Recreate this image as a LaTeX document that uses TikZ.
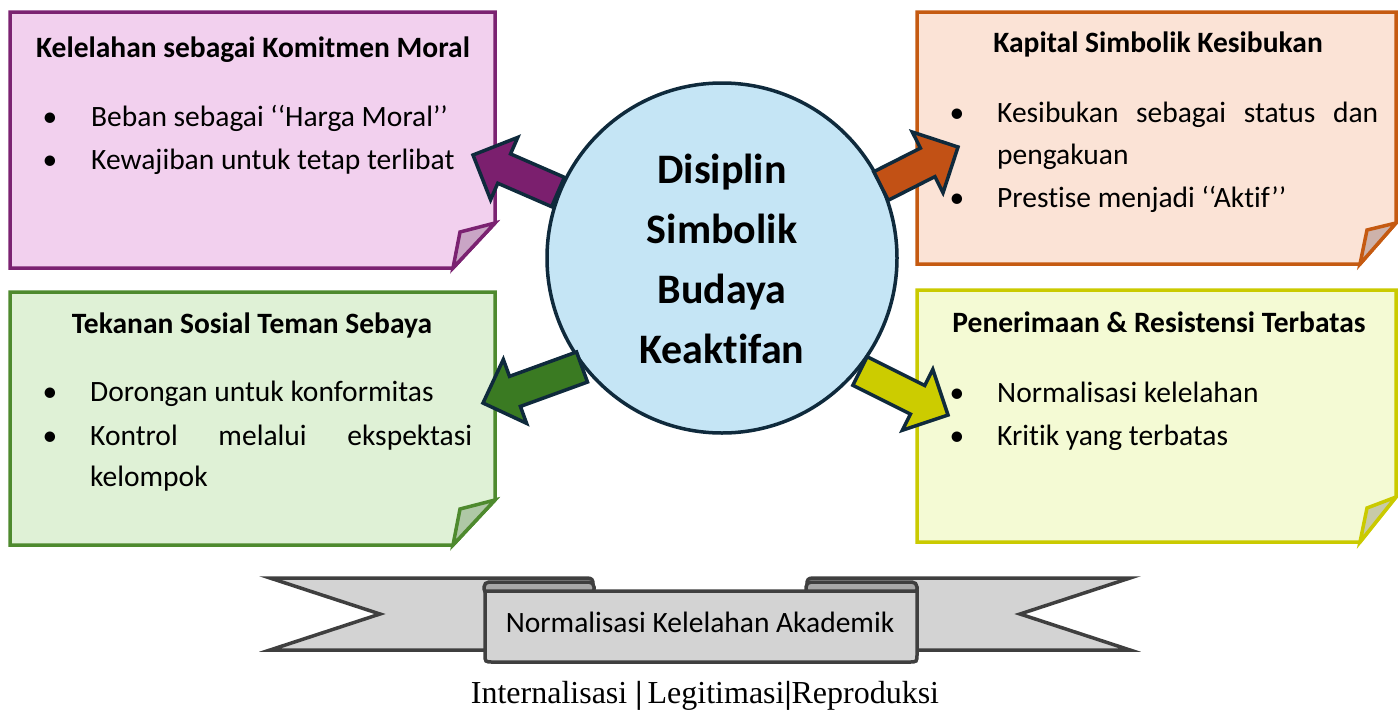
\documentclass[tikz,border=0pt]{standalone}
\usepackage{fontspec}
\setmainfont{Carlito}[Ligatures={TeX,NoCommon}]
\newfontfamily\capfont{Liberation Serif}
\usetikzlibrary{calc}
\definecolor{pinkF}{HTML}{F2D0EE}
\definecolor{pinkB}{HTML}{7B2271}
\definecolor{pinkD}{HTML}{C9A5C5}
\definecolor{oranF}{HTML}{FBE3D6}
\definecolor{oranB}{HTML}{C55A11}
\definecolor{oranD}{HTML}{CDB2AA}
\definecolor{grenF}{HTML}{DFF1D6}
\definecolor{grenB}{HTML}{4E8A2E}
\definecolor{grenD}{HTML}{AFC8A6}
\definecolor{yelF}{HTML}{F4FAD4}
\definecolor{yelB}{HTML}{CACA00}
\definecolor{yelD}{HTML}{C8CAA8}
\definecolor{circF}{HTML}{C5E5F5}
\definecolor{navy}{HTML}{0F2A3C}
\definecolor{arrP}{HTML}{7B1F6E}
\definecolor{arrO}{HTML}{C25115}
\definecolor{arrG}{HTML}{3A7A22}
\definecolor{arrY}{HTML}{CCCC00}
\definecolor{ribF}{HTML}{D3D3D3}
\definecolor{ribD}{HTML}{A8A8A8}
\definecolor{ribB}{HTML}{3F3F3F}
\newcommand{\blockarrow}[3]{%
  \coordinate (hh) at ($(#2)!34pt!(#1)$);
  \draw[arrowbox, fill=#3] ($(#1)!16pt!90:(#2)$) -- ($(hh)!16pt!90:(#2)$) -- ($(hh)!34pt!90:(#2)$) -- (#2)
    -- ($(hh)!34pt!-90:(#2)$) -- ($(hh)!16pt!-90:(#2)$) -- ($(#1)!16pt!-90:(#2)$) -- cycle;}
\begin{document}
\begin{tikzpicture}[x=1pt,y=-1pt,
  boxline/.style={line width=3.5pt, line join=miter},
  arrowbox/.style={draw=navy, line width=3.5pt, line join=miter},
  ttl/.style={font=\fontsize{29.5}{34}\selectfont\bfseries, anchor=base, inner sep=0pt},
  body/.style={font=\fontsize{29.5}{34}\selectfont, anchor=base west, inner sep=0pt},
  bul/.style={font=\fontsize{29.5}{34}\selectfont, anchor=base, inner sep=0pt},
  rib/.style={draw=ribB, line width=3.5pt, fill=ribF, line join=miter}]
\useasboundingbox (0,0) rectangle (1398,713);
% boxes
\draw[boxline, draw=pinkB, fill=pinkF] (10,12) -- (495,12) -- (495,223) -- (453,268) -- (10,268) -- cycle;
\draw[boxline, draw=pinkB, fill=pinkD] (453,268) -- (460,232) -- (495,223) -- cycle;
\draw[boxline, draw=oranB, fill=oranF] (917,12) -- (1396,12) -- (1396,223) -- (1360,264) -- (917,264) -- cycle;
\draw[boxline, draw=oranB, fill=oranD] (1360,264) -- (1367,230) -- (1396,223) -- cycle;
\draw[boxline, draw=grenB, fill=grenF] (10,292) -- (495,292) -- (495,500) -- (453,545) -- (10,545) -- cycle;
\draw[boxline, draw=grenB, fill=grenD] (453,545) -- (460,509) -- (495,500) -- cycle;
\draw[boxline, draw=yelB, fill=yelF] (917,290) -- (1396,290) -- (1396,497) -- (1360,542) -- (917,542) -- cycle;
\draw[boxline, draw=yelB, fill=yelD] (1360,542) -- (1367,508) -- (1396,497) -- cycle;
% box texts
\node[ttl] (t1) at (253,57) {Kelelahan sebagai Komitmen Moral};
\node[bul] (b11) at (50,126) {\textbullet};
\node[body] (i11) at (91,126) {Beban sebagai ‘‘Harga Moral’’};
\node[bul] (b12) at (50,169) {\textbullet};
\node[body] (i12) at (91,169) {Kewajiban untuk tetap terlibat};
\node[ttl] (t2) at (1158,52) {Kapital Simbolik Kesibukan};
\node[bul] (b21) at (957,122) {\textbullet};
\node[body] (i21) at (997,122) {\makebox[381pt][s]{Kesibukan sebagai status dan}};
\node[body] (i21b) at (997,164) {pengakuan};
\node[bul] (b22) at (957,207) {\textbullet};
\node[body] (i22) at (997,207) {Prestise menjadi ‘‘Aktif’’};
\node[ttl] (t3) at (252,333) {Tekanan Sosial Teman Sebaya};
\node[bul] (b31) at (50,401) {\textbullet};
\node[body] (i31) at (90,401) {Dorongan untuk konformitas};
\node[bul] (b32) at (50,445) {\textbullet};
\node[body] (i32) at (90,445) {\makebox[382pt][s]{Kontrol melalui ekspektasi}};
\node[body] (i32b) at (90,486) {kelompok};
\node[ttl] (t4) at (1159,332) {Penerimaan \& Resistensi Terbatas};
\node[bul] (b41) at (957,402) {\textbullet};
\node[body] (i41) at (997,402) {Normalisasi kelelahan};
\node[bul] (b42) at (957,445) {\textbullet};
\node[body] (i42) at (997,445) {Kritik yang terbatas};
% circle
\node[circle, draw=navy, fill=circF, line width=3.5pt, minimum size=350pt, inner sep=0pt] (c) at (722,258) {};
\node[font=\fontsize{42}{60}\selectfont\bfseries, align=center, inner sep=0pt] (ct) at (722,259) {Disiplin\\Simbolik\\Budaya\\Keaktifan};
% arrows
\coordinate (pT) at (558,192); \coordinate (pP) at (473,155);
\coordinate (oT) at (881,186); \coordinate (oP) at (958,147);
\coordinate (gT) at (582,367); \coordinate (gP) at (483,403);
\coordinate (yT) at (860,371); \coordinate (yP) at (948,415);
\blockarrow{pT}{pP}{arrP}
\blockarrow{oT}{oP}{arrO}
\blockarrow{gT}{gP}{arrG}
\blockarrow{yT}{yP}{arrY}
% ribbon
\draw[rib] (270,578) -- (587,578) .. controls (592,578) and (593,580) .. (593,584) -- (593,650) -- (270,650) -- (380,614) -- cycle;
\draw[rib] (1130,578) -- (813,578) .. controls (808,578) and (807,580) .. (807,584) -- (807,650) -- (1130,650) -- (1020,614) -- cycle;
\draw[rib, fill=ribD, rounded corners=5pt] (484,582) rectangle (594,594);
\draw[rib, fill=ribD, rounded corners=5pt] (806,582) rectangle (917,594);
\draw[rib] (485,591) -- (485,654) .. controls (485,662) .. (493,662) -- (909,662) .. controls (917,662) .. (917,654) -- (917,591) -- cycle;
\node[font=\fontsize{29.5}{34}\selectfont] (rt) at (700,622) {Normalisasi Kelelahan Akademik};
% caption
\node[font=\capfont\fontsize{32}{36}\selectfont] (cap) at (705,696) {Internalisasi~\textbf{\textbar}\,Legitimasi\textbf{\textbar}Reproduksi};
\end{tikzpicture}
\end{document}
